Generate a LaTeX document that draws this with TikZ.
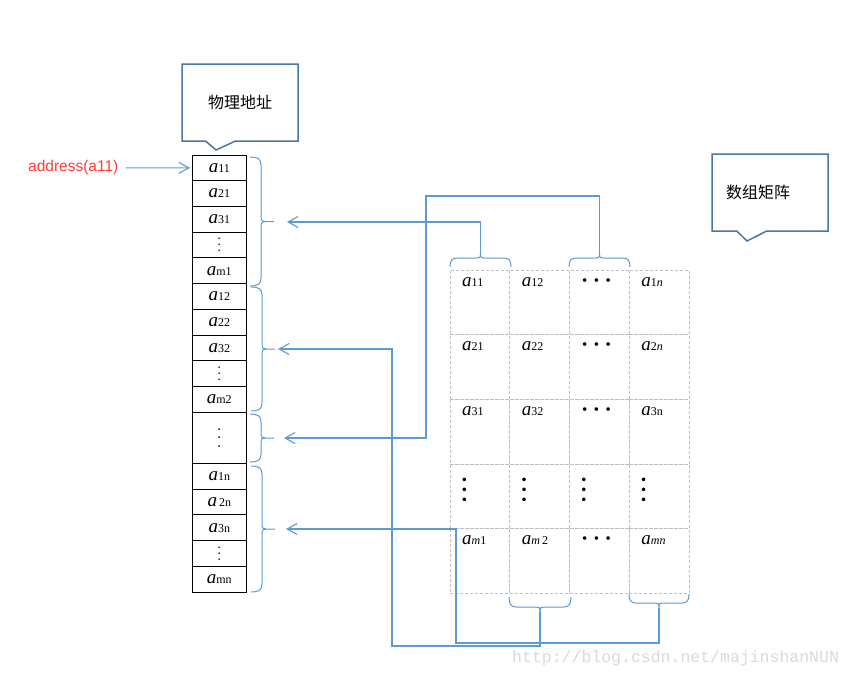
\documentclass[tikz,border=0pt]{standalone}
\usepackage{fontspec}
\setmainfont{Liberation Serif}
\newfontfamily\cjk{Noto Sans CJK SC}
\newfontfamily\sansf{Liberation Sans}
\newfontfamily\monof{Liberation Mono}
\usetikzlibrary{arrows.meta,shapes.callouts}
\definecolor{connc}{HTML}{5B9BD5}
\definecolor{boxc}{HTML}{4A76A8}
\definecolor{addrred}{HTML}{FF3B3B}
\definecolor{gridc}{HTML}{BFBFBF}
\definecolor{wmc}{HTML}{DADADA}
\newcommand\ent[1]{{\fontsize{19}{19}\selectfont\itshape a}{\fontsize{12}{12}\selectfont #1}}
\newcommand\rowdots[3]{{\fontsize{#1}{#1}\selectfont #3\hspace{#2}#3\hspace{#2}#3}}
\newcommand\coldots[3]{\rotatebox{90}{\rowdots{#1}{#2}{#3}}}
\newcommand\hdotsrow{\rowdots{15}{6.5pt}{•}}
\newcommand\vbr[4]{%
 \pgfmathsetmacro\vbm{(#2+#3)/2}%
 \draw[brc] (#1,#2) .. controls ({#1+8},#2) and ({#1+11},{#2+2}) .. ({#1+11},{#2+8}) -- ({#1+11},{\vbm-4}) .. controls ({#1+11},{\vbm-1}) and ({#1+12},\vbm) .. ({#1+15},\vbm) -- ({#1+24},\vbm) coordinate (#4);
 \draw[brc] (#1,#3) .. controls ({#1+8},#3) and ({#1+11},{#3-2}) .. ({#1+11},{#3-8}) -- ({#1+11},{\vbm+4}) .. controls ({#1+11},{\vbm+1}) and ({#1+12},\vbm) .. ({#1+15},\vbm);
}
\newcommand\hbr[5]{%
 \pgfmathsetmacro\hbm{(#1+#2)/2}%
 \draw[brc] (#1,#3) .. controls (#1,{#3+0.7*(#4)}) and ({#1+2},{#3+(#4)}) .. ({#1+7},{#3+(#4)}) -- ({\hbm-4},{#3+(#4)}) .. controls ({\hbm-1},{#3+(#4)}) and (\hbm,{#3+(#4)}) .. (\hbm,{#3+1.5*(#4)}) coordinate (#5);
 \draw[brc] (#2,#3) .. controls (#2,{#3+0.7*(#4)}) and ({#2-2},{#3+(#4)}) .. ({#2-7},{#3+(#4)}) -- ({\hbm+4},{#3+(#4)}) .. controls ({\hbm+1},{#3+(#4)}) and (\hbm,{#3+(#4)}) .. (\hbm,{#3+1.5*(#4)});
}
\begin{document}
\begin{tikzpicture}[x=1pt,y=-1pt,
  lcell/.style={draw=black,line width=0.8pt,minimum width=54.5pt,minimum height=25.7pt,inner sep=0pt,outer sep=0pt},
  mcell/.style={draw=gridc,line width=0.6pt,dash pattern=on 3pt off 2pt,minimum width=59.75pt,minimum height=64.6pt,inner sep=0pt,outer sep=0pt},
  ment/.style={anchor=base west,inner sep=0pt},
  mdot/.style={anchor=center,inner sep=0pt},
  brc/.style={draw=connc,line width=1pt},
  conn/.style={draw=connc,line width=1.1pt,-{Straight Barb[length=10pt,width=11pt]}},
  callbox/.style={rectangle callout,draw=boxc,line width=1.5pt,fill=white,minimum width=116pt,minimum height=77pt,inner sep=0pt,callout pointer width=30pt,font=\cjk\fontsize{16}{16}\selectfont}]
\fill[white] (0,0) rectangle (854,678);
\useasboundingbox (0,0) rectangle (854,678);

% callouts
\node[callbox,callout absolute pointer={(216,150)}] (phys) at (240,102.5) {物理地址};
\node[callbox,callout absolute pointer={(747,241)}] (arr) at (770,192.5) {数组矩阵\kern24pt};

% left column
\foreach \k/\t in {0/{\ent{11}},1/{\ent{21}},2/{\ent{31}},3/{\coldots{14}{2.5pt}{.}},4/{\ent{m1}},
                   5/{\ent{12}},6/{\ent{22}},7/{\ent{32}},8/{\coldots{14}{2.5pt}{.}},9/{\ent{m2}},
                   12/{\ent{1n}},13/{\ent{\,2n}},14/{\ent{3n}},15/{\coldots{14}{2.5pt}{.}},16/{\ent{mn}}}
  \node[lcell] (L\k) at (219.3,{155+25.7*(\k+0.5)}) {\t};
\node[lcell,minimum height=51.4pt] (L10) at (219.3,437.7) {\coldots{15}{4.7pt}{.}};

% address
\node[anchor=west,inner sep=0pt,text=addrred,font=\sansf\fontsize{15.5}{15.5}\selectfont] (addr) at (28,167.85) {address(a11)};
\draw[conn] ([xshift=7pt]addr.east) -- ([xshift=-2pt]L0.west);

% matrix grid
\foreach \r in {1,...,5}
  \foreach \c in {1,...,4}
    \node[mcell] (m\r\c) at ({450+59.75*(\c-0.5)},{270+64.6*(\r-0.5)}) {};

\node[ment] at ([shift={(12,16)}]m11.north west) {\ent{11}};
\node[ment] at ([shift={(12,16)}]m12.north west) {\ent{12}};
\node[mdot] at ([shift={(27,12)}]m13.north west) {\hdotsrow};
\node[ment] at ([shift={(12,16)}]m14.north west) {\ent{1\textit{n}}};
\node[ment] at ([shift={(12,16)}]m21.north west) {\ent{21}};
\node[ment] at ([shift={(12,16)}]m22.north west) {\ent{22}};
\node[mdot] at ([shift={(27,12)}]m23.north west) {\hdotsrow};
\node[ment] at ([shift={(12,16)}]m24.north west) {\ent{2\textit{n}}};
\node[ment] at ([shift={(12,16)}]m31.north west) {\ent{31}};
\node[ment] at ([shift={(12,16)}]m32.north west) {\ent{32}};
\node[mdot] at ([shift={(27,12)}]m33.north west) {\hdotsrow};
\node[ment] at ([shift={(12,16)}]m34.north west) {\ent{3n}};
\foreach \c in {1,...,4}
  \node[mdot] at ([shift={(16,26)}]m4\c.north west) {\coldots{15}{5pt}{•}};
\node[ment] at ([shift={(12,16)}]m51.north west) {\ent{\textit{m}1}};
\node[ment] at ([shift={(12,16)}]m52.north west) {\ent{\textit{m}\,2}};
\node[mdot] at ([shift={(27,12)}]m53.north west) {\hdotsrow};
\node[ment] at ([shift={(12,16)}]m54.north west) {\ent{\textit{mn}}};

% braces
\vbr{250}{157}{286}{B1}
\vbr{251}{287}{411}{B2}
\vbr{250}{414}{462}{B3}
\vbr{251}{466}{592}{B4}
\hbr{450}{511}{267}{-9}{T1}
\hbr{569}{630}{267}{-9}{T3}
\hbr{509}{571}{597}{10}{Q2}
\hbr{629}{689}{594}{9}{Qn}

% arrow targets
\coordinate (A1) at (287,222);
\coordinate (A2) at (278,349);
\coordinate (A3) at (284,438);
\coordinate (A4) at (286,529);

% connectors
\draw[conn] (T1) |- (A1);
\draw[conn] (T3) |- (426,196) |- (A3);
\draw[conn] (Q2) |- (392,646) |- (A2);
\draw[conn] (Qn) |- (456,643) |- (A4);

% watermark
\node[anchor=west,inner sep=0pt,text=wmc,font=\monof\fontsize{16.5}{16.5}\selectfont] (wmk) at (512,658) {http://blog.csdn.net/majinshanNUN};
\end{tikzpicture}
\end{document}
